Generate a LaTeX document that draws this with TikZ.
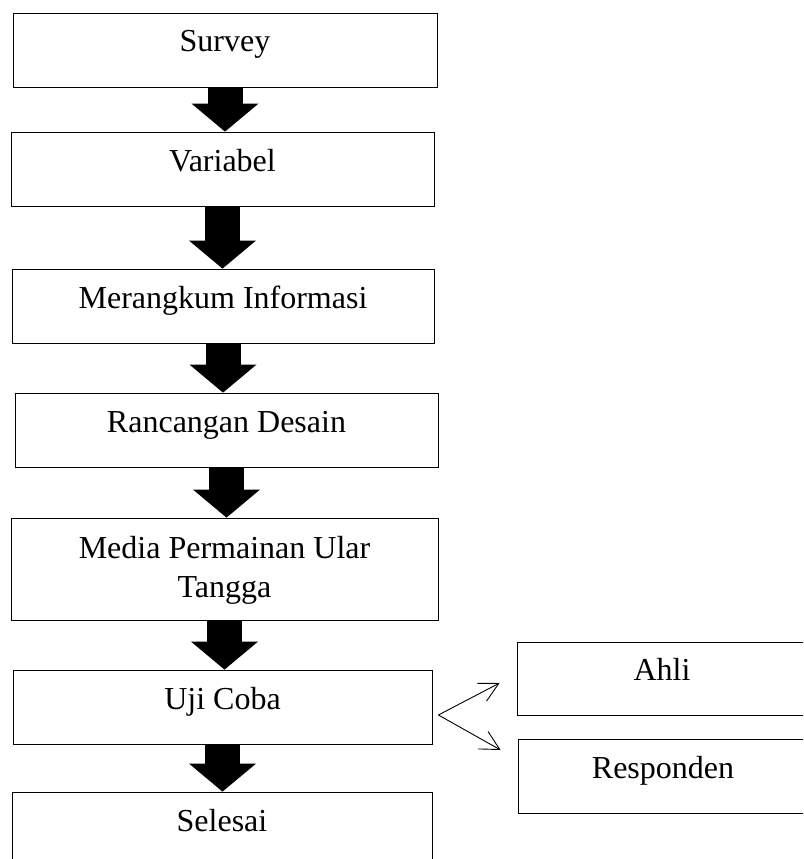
\documentclass[tikz,border=0pt]{standalone}
\usepackage{fontspec}
\setmainfont{Liberation Serif}
\usetikzlibrary{arrows.meta}

\tikzset{
  stage/.style={draw, line width=0.8pt, minimum width=422pt, inner xsep=0pt, inner ysep=0pt,
    text height=39pt, text depth=35pt, font=\fontsize{32}{39}\selectfont},
  blockarrow/.style={line width=35pt, -{Triangle[width=67pt,length=28pt,line width=0pt]}},
  branch/.style={line width=0.9pt, -{Straight Barb[length=19pt,width=20pt]}}
}

\begin{document}
\begin{tikzpicture}[x=1pt,y=-1pt]
  \useasboundingbox (0,0) rectangle (803,859);
  \clip (0,0) rectangle (803,859);

  % main steps
  \node[stage, minimum width=424pt] (survey) at (225,50) {Survey};
  \node[stage, minimum width=423pt] (variabel) at (222.5,169) {Variabel};
  \node[stage] (merangkum) at (223,306) {Merangkum Informasi};
  \node[stage, minimum width=423pt] (rancangan) at (226.5,430) {Rancangan Desain};
  \node[stage, minimum width=427pt, text height=40pt, text depth=62pt] (media) at (224.5,569)
    {\begin{tabular}[t]{@{}c@{}}Media Permainan Ular\\Tangga\end{tabular}};
  \node[stage, minimum width=419pt] (ujicoba) at (222.5,707) {Uji Coba};
  \node[stage, minimum width=420pt] (selesai) at (222,829) {Selesai};

  % test groups
  \node[stage, minimum width=290pt, text height=38pt] (ahli) at (662,678.5) {Ahli};
  \node[stage, minimum width=290pt] (responden) at (663,776) {Responden};

  \draw[blockarrow] (survey.south) -- (survey.south |- variabel.north);
  \draw[blockarrow] (variabel.south) -- (variabel.south |- merangkum.north);
  \draw[blockarrow] (merangkum.south) -- (merangkum.south |- rancangan.north);
  \draw[blockarrow] (rancangan.south) -- (rancangan.south |- media.north);
  \draw[blockarrow] (media.south) -- (media.south |- ujicoba.north);
  \draw[blockarrow] (ujicoba.south) -- (ujicoba.south |- selesai.north);

  \coordinate (fork) at ([xshift=6pt,yshift=-8pt]ujicoba.east);
  \coordinate (toahli) at ([xshift=-17pt,yshift=-4.5pt]ahli.west);
  \coordinate (toresp) at ([xshift=-17pt,yshift=26pt]responden.west);
  \draw[branch] (fork) -- (toahli);
  \draw[branch] (fork) -- (toresp);
\end{tikzpicture}
\end{document}
